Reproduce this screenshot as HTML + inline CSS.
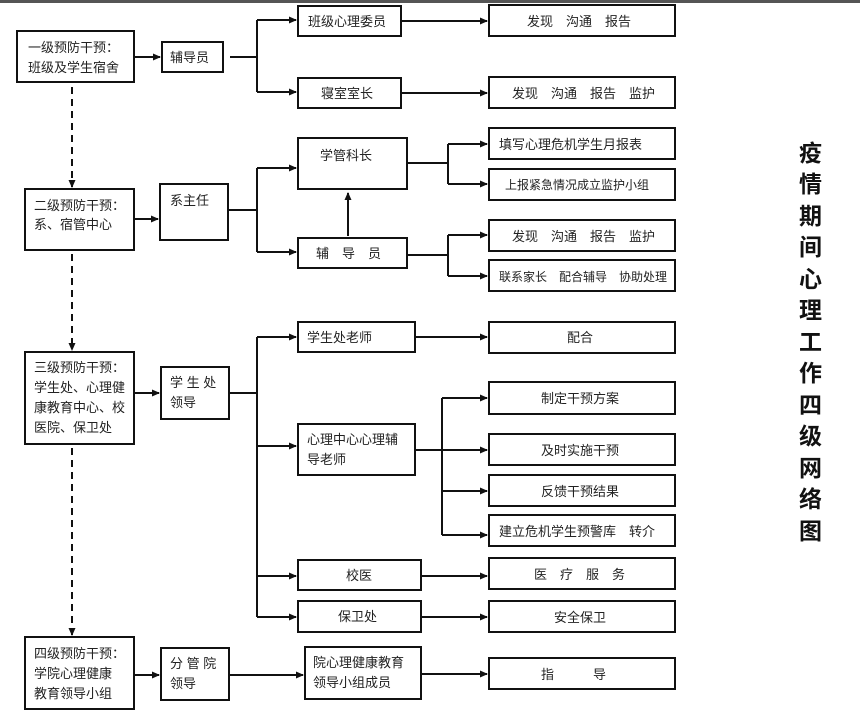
<!DOCTYPE html>
<html><head><meta charset="utf-8"><style>
html,body{margin:0;padding:0;background:#fff;}
svg{display:block;}
text{font-family:"Liberation Sans","Noto Sans CJK SC",sans-serif;font-size:13px;fill:#222;}
.t{font-size:23px;font-weight:bold;fill:#111;}
</style></head><body>
<svg width="860" height="718" viewBox="0 0 860 718" xmlns="http://www.w3.org/2000/svg">
<defs><marker id="a" markerWidth="8" markerHeight="8" refX="7" refY="4" orient="auto" markerUnits="userSpaceOnUse"><path d="M0,0.5 L8,4 L0,7.5z" fill="#111"/></marker></defs>
<rect x="0" y="0" width="860" height="3" fill="#555"/>
<g fill="none" stroke="#111" stroke-width="2">
<rect x="17" y="31" width="117" height="51"/>
<rect x="25" y="189" width="109" height="61"/>
<rect x="25" y="352" width="109" height="92"/>
<rect x="25" y="637" width="109" height="72"/>
<rect x="162" y="42" width="61" height="30"/>
<rect x="160" y="184" width="68" height="56"/>
<rect x="161" y="367" width="68" height="52"/>
<rect x="161" y="648" width="68" height="52"/>
<rect x="298" y="6" width="103" height="30"/>
<rect x="298" y="78" width="103" height="30"/>
<rect x="298" y="138" width="109" height="51"/>
<rect x="298" y="238" width="109" height="30"/>
<rect x="298" y="322" width="117" height="30"/>
<rect x="298" y="424" width="117" height="51"/>
<rect x="298" y="560" width="123" height="30"/>
<rect x="298" y="601" width="123" height="31"/>
<rect x="305" y="647" width="116" height="52"/>
<rect x="489" y="5" width="186" height="31"/>
<rect x="489" y="77" width="186" height="31"/>
<rect x="489" y="128" width="186" height="31"/>
<rect x="489" y="169" width="186" height="31"/>
<rect x="489" y="220" width="186" height="31"/>
<rect x="489" y="260" width="186" height="31"/>
<rect x="489" y="322" width="186" height="31"/>
<rect x="489" y="382" width="186" height="32"/>
<rect x="489" y="434" width="186" height="31"/>
<rect x="489" y="475" width="186" height="31"/>
<rect x="489" y="515" width="186" height="31"/>
<rect x="489" y="558" width="186" height="31"/>
<rect x="489" y="601" width="186" height="31"/>
<rect x="489" y="658" width="186" height="31"/>
<path d="M72 87V187" stroke-dasharray="7,5" marker-end="url(#a)"/>
<path d="M72 254V350" stroke-dasharray="7,5" marker-end="url(#a)"/>
<path d="M72 448V635" stroke-dasharray="7,5" marker-end="url(#a)"/>
<path d="M134 57H160" marker-end="url(#a)"/>
<path d="M134 219H158" marker-end="url(#a)"/>
<path d="M134 393H159" marker-end="url(#a)"/>
<path d="M134 675H159" marker-end="url(#a)"/>
<path d="M230 57H257M257 20V92"/>
<path d="M257 20H296" marker-end="url(#a)"/>
<path d="M257 92H296" marker-end="url(#a)"/>
<path d="M228 210H257M257 168V252"/>
<path d="M257 168H296" marker-end="url(#a)"/>
<path d="M257 252H296" marker-end="url(#a)"/>
<path d="M348 236V193" marker-end="url(#a)"/>
<path d="M229 393H257M257 337V617"/>
<path d="M257 337H296" marker-end="url(#a)"/>
<path d="M257 446H296" marker-end="url(#a)"/>
<path d="M257 576H296" marker-end="url(#a)"/>
<path d="M257 617H296" marker-end="url(#a)"/>
<path d="M229 675H303" marker-end="url(#a)"/>
<path d="M401 21H487" marker-end="url(#a)"/>
<path d="M401 93H487" marker-end="url(#a)"/>
<path d="M407 163H448M448 144V184"/>
<path d="M448 144H487" marker-end="url(#a)"/>
<path d="M448 184H487" marker-end="url(#a)"/>
<path d="M407 255H448M448 235V276"/>
<path d="M448 235H487" marker-end="url(#a)"/>
<path d="M448 276H487" marker-end="url(#a)"/>
<path d="M415 337H487" marker-end="url(#a)"/>
<path d="M415 450H487" marker-end="url(#a)"/>
<path d="M442 398V535"/>
<path d="M442 398H487" marker-end="url(#a)"/>
<path d="M442 491H487" marker-end="url(#a)"/>
<path d="M442 535H487" marker-end="url(#a)"/>
<path d="M421 576H487" marker-end="url(#a)"/>
<path d="M421 617H487" marker-end="url(#a)"/>
<path d="M421 674H487" marker-end="url(#a)"/>
</g>
<text x="28" y="52">一级预防干预：</text>
<text x="28" y="72">班级及学生宿舍</text>
<text x="170" y="62">辅导员</text>
<text x="34" y="210">二级预防干预：</text>
<text x="34" y="229">系、宿管中心</text>
<text x="170" y="205">系主任</text>
<text x="34" y="372">三级预防干预：</text>
<text x="34" y="392">学生处、心理健</text>
<text x="34" y="412">康教育中心、校</text>
<text x="34" y="432">医院、保卫处</text>
<text x="170" y="387">学 生 处</text>
<text x="170" y="407">领导</text>
<text x="34" y="658">四级预防干预：</text>
<text x="34" y="678">学院心理健康</text>
<text x="34" y="698">教育领导小组</text>
<text x="170" y="668">分 管 院</text>
<text x="170" y="688">领导</text>
<text x="308" y="26">班级心理委员</text>
<text x="321" y="98">寝室室长</text>
<text x="320" y="160">学管科长</text>
<text x="316" y="258">辅　导　员</text>
<text x="307" y="342">学生处老师</text>
<text x="307" y="444">心理中心心理辅</text>
<text x="307" y="464">导老师</text>
<text x="346" y="580">校医</text>
<text x="338" y="621">保卫处</text>
<text x="313" y="667">院心理健康教育</text>
<text x="313" y="687">领导小组成员</text>
<text x="527" y="26">发现　沟通　报告</text>
<text x="512" y="98">发现　沟通　报告　监护</text>
<text x="499" y="149">填写心理危机学生月报表</text>
<text x="505" y="189" style="font-size:12px">上报紧急情况成立监护小组</text>
<text x="512" y="241">发现　沟通　报告　监护</text>
<text x="499" y="281" style="font-size:12px">联系家长　配合辅导　协助处理</text>
<text x="567" y="342">配合</text>
<text x="541" y="403">制定干预方案</text>
<text x="541" y="455">及时实施干预</text>
<text x="541" y="496">反馈干预结果</text>
<text x="499" y="536">建立危机学生预警库　转介</text>
<text x="534" y="579">医　疗　服　务</text>
<text x="554" y="622">安全保卫</text>
<text x="541" y="679">指　　　导</text>
<text class="t" x="799" y="161">疫</text>
<text class="t" x="799" y="192">情</text>
<text class="t" x="799" y="224">期</text>
<text class="t" x="799" y="255">间</text>
<text class="t" x="799" y="287">心</text>
<text class="t" x="799" y="318">理</text>
<text class="t" x="799" y="350">工</text>
<text class="t" x="799" y="381">作</text>
<text class="t" x="799" y="413">四</text>
<text class="t" x="799" y="444">级</text>
<text class="t" x="799" y="476">网</text>
<text class="t" x="799" y="507">络</text>
<text class="t" x="799" y="539">图</text>
</svg>
</body></html>
